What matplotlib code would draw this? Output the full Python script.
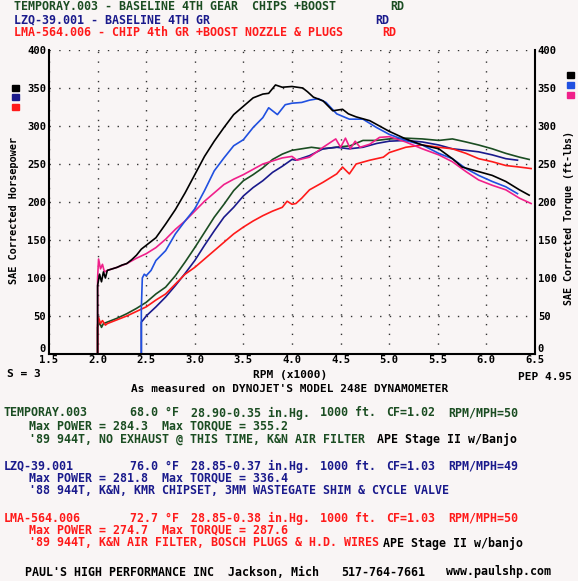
import matplotlib
matplotlib.use("Agg")
import matplotlib.pyplot as plt
from matplotlib.patches import Rectangle

# torque curves (ft-lbs)
tq1_rpm = [2.0, 2.0, 2.02, 2.04, 2.06, 2.08, 2.1, 2.15, 2.2, 2.25, 2.3, 2.35, 2.4, 2.45, 2.5, 2.6, 2.7, 2.8, 2.9,
           3.0, 3.1, 3.2, 3.3, 3.4, 3.5, 3.6, 3.7, 3.76, 3.83, 3.9, 4.0, 4.11, 4.16, 4.22, 4.32, 4.42, 4.52, 4.58,
           4.66, 4.8, 4.9, 5.0, 5.17, 5.34, 5.51, 5.65, 5.75, 5.92, 6.06, 6.2, 6.34, 6.44]
tq1 = [0, 90, 105, 95, 108, 100, 110, 112, 114, 117, 119, 124, 130, 138, 143, 153, 171, 190, 212,
       236, 260, 280, 298, 315, 326, 337, 342, 343, 354, 351, 352, 350, 345, 338, 333, 320, 322, 316,
       312, 307, 300, 293, 283, 275, 270, 257, 246, 240, 235, 227, 216, 209]

tq2_rpm = [2.45, 2.45, 2.46, 2.48, 2.5, 2.55, 2.6, 2.7, 2.8, 2.9, 3.0, 3.1, 3.2, 3.3, 3.4, 3.5, 3.6, 3.7, 3.76,
           3.85, 3.93, 4.0, 4.1, 4.18, 4.27, 4.35, 4.46, 4.59, 4.73, 4.87, 5.0, 5.17, 5.34, 5.51, 5.65, 5.79,
           5.92, 6.06, 6.2, 6.32]
tq2 = [0, 60, 100, 105, 103, 110, 123, 136, 158, 175, 191, 215, 241, 258, 274, 282, 298, 311, 324,
       315, 328, 330, 331, 334, 336, 331, 316, 309, 309, 298, 289, 281, 275, 264, 257, 244,
       235, 227, 220, 211]

tq3_rpm = [2.0, 2.0, 2.01, 2.03, 2.05, 2.07, 2.1, 2.2, 2.3, 2.4, 2.5, 2.6, 2.7, 2.8, 2.9, 3.0, 3.1, 3.2, 3.3,
           3.4, 3.5, 3.6, 3.7, 3.8, 3.9, 4.0, 4.05, 4.18, 4.32, 4.45, 4.5, 4.55, 4.6, 4.65, 4.7, 4.8, 4.9, 5.0,
           5.1, 5.17, 5.34, 5.51, 5.65, 5.79, 5.92, 6.06, 6.2, 6.34, 6.46]
tq3 = [0, 100, 125, 112, 118, 108, 110, 114, 119, 126, 132, 140, 151, 164, 175, 188, 201, 212, 223,
       230, 236, 243, 250, 254, 258, 260, 255, 259, 272, 283, 272, 284, 270, 280, 272, 276, 285, 286,
       282, 279, 270, 262, 253, 240, 229, 222, 216, 205, 198]

# horsepower curves
hp1_rpm = [2.0, 2.0, 2.02, 2.04, 2.06, 2.1, 2.2, 2.3, 2.4, 2.45, 2.5, 2.6, 2.7, 2.8, 2.9, 3.0, 3.1, 3.2, 3.3,
           3.4, 3.5, 3.6, 3.7, 3.8, 3.9, 4.0, 4.1, 4.2, 4.32, 4.45, 4.6, 4.73, 4.87, 5.0, 5.17, 5.34, 5.51,
           5.65, 5.79, 5.92, 6.06, 6.2, 6.34, 6.44]
hp1 = [0, 35, 42, 35, 40, 42, 47, 53, 60, 64, 68, 79, 88, 103, 121, 140, 160, 180, 197,
       215, 228, 236, 245, 256, 263, 268, 270, 272, 270, 272, 274, 281, 281, 283, 284, 283, 281,
       283, 279, 275, 270, 264, 259, 256]

hp2_rpm = [2.45, 2.45, 2.47, 2.5, 2.6, 2.7, 2.8, 2.9, 3.0, 3.1, 3.2, 3.3, 3.4, 3.5, 3.6, 3.7, 3.8, 3.9, 4.0,
           4.04, 4.18, 4.32, 4.46, 4.59, 4.73, 4.87, 5.0, 5.17, 5.34, 5.51, 5.65, 5.79, 5.92, 6.06, 6.2, 6.32]
hp2 = [0, 42, 45, 50, 62, 75, 90, 106, 123, 143, 162, 180, 193, 208, 219, 228, 239, 247, 256,
       255, 261, 270, 272, 270, 272, 277, 280, 281, 279, 275, 270, 268, 266, 262, 257, 255]

hp3_rpm = [2.0, 2.0, 2.01, 2.03, 2.05, 2.08, 2.1, 2.2, 2.3, 2.4, 2.5, 2.6, 2.7, 2.8, 2.9, 3.0, 3.1, 3.2, 3.3,
           3.4, 3.5, 3.6, 3.7, 3.8, 3.9, 3.95, 4.0, 4.04, 4.1, 4.18, 4.32, 4.46, 4.52, 4.59, 4.66, 4.8, 4.94,
           5.0, 5.17, 5.34, 5.51, 5.65, 5.79, 5.92, 6.06, 6.2, 6.34, 6.46]
hp3 = [0, 38, 48, 40, 44, 38, 40, 45, 50, 56, 62, 71, 79, 92, 105, 114, 125, 136, 147,
       158, 167, 175, 182, 188, 193, 201, 197, 198, 205, 216, 226, 237, 246, 237, 250, 255, 259,
       265, 272, 275, 272, 270, 264, 257, 253, 248, 246, 244]

x_ticks = [1.5, 2.0, 2.5, 3.0, 3.5, 4.0, 4.5, 5.0, 5.5, 6.0, 6.5]
y_ticks = [0, 50, 100, 150, 200, 250, 300, 350, 400]

GREEN = "#1b4d22"
NAVY = "#1a1a8c"
RED = "#ff1a1a"
BLUE = "#2050e0"
PINK = "#f0208a"
BG = "#f9f5f5"
MONO = "DejaVu Sans Mono"

W, H = 578, 581
fig = plt.figure(figsize=(W / 100, H / 100), dpi=100, facecolor=BG)


def px(x, y):
    return x / W, 1 - y / H


def txt(x, y, s, color="black", ha="left", size=8.4, **kw):
    fx, fy = px(x, y)
    fig.text(fx, fy, s, color=color, ha=ha, va="center", fontsize=size,
             family=MONO, fontweight="bold", **kw)


ax = fig.add_axes([49 / W, 1 - 354 / H, (535 - 49) / W, (354 - 50) / H])
ax.set_facecolor(BG)

ax.plot(hp1_rpm, hp1, color=GREEN, lw=1.2)
ax.plot(hp2_rpm, hp2, color=NAVY, lw=1.2)
ax.plot(hp3_rpm, hp3, color=RED, lw=1.2)
ax.plot(tq3_rpm, tq3, color=PINK, lw=1.2)
ax.plot(tq2_rpm, tq2, color=BLUE, lw=1.2)
ax.plot(tq1_rpm, tq1, color="black", lw=1.2)

ax.set_xlim(1.5, 6.5)
ax.set_ylim(0, 400)
ax.set_xticks(x_ticks)
ax.set_xticklabels(["%.1f" % v for v in x_ticks])
ax.set_yticks(y_ticks)
ax.grid(True, linestyle=(0, (1, 6)), color="#333333", linewidth=1.0)
ax.spines["top"].set_visible(False)
for s in ["left", "right", "bottom"]:
    ax.spines[s].set_linewidth(1.5)
ax.tick_params(axis="both", length=0, labelsize=7.6, pad=2)
ax.tick_params(axis="y", labelright=True)
ax.tick_params(axis="x", pad=1)
for lab in ax.get_xticklabels() + ax.get_yticklabels():
    lab.set_family(MONO)
    lab.set_fontweight("bold")
# the zero labels sit just above the base line
for t in ax.yaxis.get_major_ticks()[:1]:
    t.label1.set_verticalalignment("bottom")
    t.label2.set_verticalalignment("bottom")

# header
txt(14, 7, "TEMPORAY.003 - BASELINE 4TH GEAR  CHIPS +BOOST", GREEN)
txt(390, 7, "RD", GREEN)
txt(14, 20, "LZQ-39.001 - BASELINE 4TH GR", NAVY)
txt(375, 20, "RD", NAVY)
txt(14, 33, "LMA-564.006 - CHIP 4th GR +BOOST NOZZLE & PLUGS", RED)
txt(382, 33, "RD", RED)

# axis titles
fig.text(*px(14, 210), "SAE Corrected Horsepower", rotation=90, ha="center", va="center",
         fontsize=7.4, family=MONO, fontweight="bold")
fig.text(*px(569, 218), "SAE Corrected Torque (ft-lbs)", rotation=90, ha="center", va="center",
         fontsize=7.2, family=MONO, fontweight="bold")

# colour keys
for y, c in [(88, "black"), (97, NAVY), (107, RED)]:
    fig.patches.append(Rectangle(px(12, y + 3), 7 / W, 6 / H, color=c, transform=fig.transFigure))
for y, c in [(75, "black"), (85, BLUE), (95, PINK)]:
    fig.patches.append(Rectangle(px(567, y + 3), 7 / W, 6 / H, color=c, transform=fig.transFigure))

txt(7, 374, "S = 3", size=8)
txt(290, 375, "RPM (x1000)", ha="center", size=8)
txt(572, 377, "PEP 4.95", ha="right", size=8)
txt(290, 389, "As measured on DYNOJET'S MODEL 248E DYNAMOMETER", ha="center", size=8)

# run details
rows = [
    (413, GREEN, ["TEMPORAY.003", "68.0 °F", "28.90-0.35 in.Hg.", "1000 ft.", "CF=1.02", "RPM/MPH=50"]),
    (466, NAVY, ["LZQ-39.001", "76.0 °F", "28.85-0.37 in.Hg.", "1000 ft.", "CF=1.03", "RPM/MPH=49"]),
    (518, RED, ["LMA-564.006", "72.7 °F", "28.85-0.38 in.Hg.", "1000 ft.", "CF=1.03", "RPM/MPH=50"]),
]
cols = [4, 130, 191, 320, 386, 448]
for y, c, items in rows:
    for x, s in zip(cols, items):
        txt(x, y, s, c)

txt(29, 426, "Max POWER = 284.3  Max TORQUE = 355.2", GREEN)
txt(29, 439, "'89 944T, NO EXHAUST @ THIS TIME, K&N AIR FILTER", GREEN)
txt(377, 439, "APE Stage II w/Banjo")
txt(29, 478, "Max POWER = 281.8  Max TORQUE = 336.4", NAVY)
txt(29, 491, "'88 944T, K&N, KMR CHIPSET, 3MM WASTEGATE SHIM & CYCLE VALVE", NAVY)
txt(29, 530, "Max POWER = 274.7  Max TORQUE = 287.6", RED)
txt(29, 543, "'89 944T, K&N AIR FILTER, BOSCH PLUGS & H.D. WIRES", RED)
txt(383, 543, "APE Stage II w/banjo")

txt(25, 572, "PAUL'S HIGH PERFORMANCE INC")
txt(228, 572, "Jackson, Mich")
txt(341, 572, "517-764-7661")
txt(446, 572, "www.paulshp.com")

fig.savefig("out.png", dpi=100, facecolor=BG)
